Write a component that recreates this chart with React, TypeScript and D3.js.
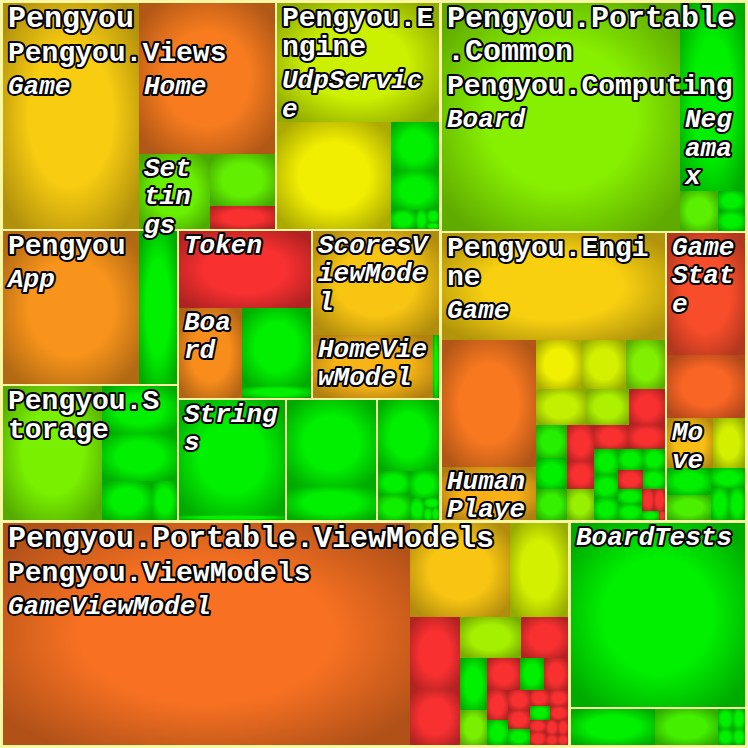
import React from "react";
import * as d3 from "d3";

type Item = [string, number, number] | [string, Item[]];

// ---- Data: [name, statements, coverage %] or [name, children] ----
// Assembly "Pengyou"
const pengyouViews: Item[] = [
  ["Game", 303, 54], ["Home", 202, 31], ["Settings", 52, 86], ["", 33, 87], ["", 14, 0],
];
const pengyouEngine: Item[] = [
  ["UdpService", 192, 73], ["", 120, 67], ["", 23, 100], ["", 19, 100],
  ["", 4.5, 100], ["", 2, 100], ["", 1.5, 100], ["", 0.7, 100],
];
const pengyouRoot: Item[] = [["App", 207, 38], ["", 57, 100]];
const pengyouStorage: Item[] = [
  ["", 132, 84], ["", 35.5, 100], ["", 35, 100], ["", 19.5, 100], ["", 9.4, 100],
];
const pengyouTokens: Item[] = [["Token", 102, 0], ["Board", 56.7, 36], ["", 54, 100], ["", 8.5, 100]];
const pengyouViewModels: Item[] = [["ScoresViewModel", 131, 52], ["HomeViewModel", 76, 47], ["", 3.8, 100]];
const pengyouStrings: Item[] = [["Strings", 123, 100], ["", 5, 100]];
const pengyouResources: Item[] = [["", 77, 100], ["", 30, 100]];
const pengyouServices: Item[] = [
  ["", 44, 100], ["", 8, 100], ["", 8, 98], ["", 8, 100], ["", 3, 100], ["", 1.5, 100], ["", 1, 100], ["", 0.8, 100],
];

// Assembly "Pengyou.Portable.Common"
const commonComputing: Item[] = [
  ["Board", 536, 82], ["Negamax", 120, 100], ["", 15, 88], ["", 5.4, 100], ["", 5.4, 100],
];
const engineSmallRest: Item[] = [
  ["", 10, 95], ["", 9.6, 100], ["", 9.6, 93], ["", 9.5, 0], ["", 7.5, 0], ["", 8, 80],
  ["", 8, 0], ["", 8.6, 0], ["", 6.2, 100], ["", 5.5, 100], ["", 5.3, 100], ["", 5.3, 100],
  ["", 4.7, 100], ["", 4.4, 0], ["", 4, 100], ["", 3.6, 100], ["", 3.5, 100], ["", 2.6, 0],
  ["", 2.5, 0], ["", 1.5, 100], ["", 0.6, 0],
];
const engineSmall: Item[] = [
  ["", 22, 68], ["", 22, 72], ["", 19, 83], ["", 18, 74], ["", 15, 77], ["", 13, 0], ["", engineSmallRest],
];
const commonEngine: Item[] = [["Game", 234, 55], ["", 117, 30], ["HumanPlayer", 49, 46], ["", engineSmall]];
const gameStateMembers: Item[] = [["", 95, 12], ["", 49, 22]];
const moveNeighbours: Item[] = [["", 11.6, 100], ["", 10.7, 90], ["", 6.7, 100], ["", 6, 100], ["", 5, 100]];
const commonState: Item[] = [["GameState", gameStateMembers], ["Move", 23, 50], ["", 16, 72], ["", moveNeighbours]];

// Assembly "Pengyou.Portable.ViewModels"
const gvmTail: Item[] = [
  ["", 6.2, 0], ["", 5, 100], ["", 4.5, 0], ["", 4, 0], ["", 3.5, 100], ["", 3, 0], ["", 3, 0],
  ["", 2.8, 100], ["", 2.5, 0], ["", 2, 0], ["", 2, 0], ["", 1.8, 0], ["", 1.5, 0], ["", 1.2, 0], ["", 1, 0],
];
const gvmRow: Item[] = [["", 10, 0], ["", 7.3, 100], ["", 7.3, 0]];
const gvmColumn: Item[] = [["", 14, 100], ["", 9.6, 84]];
const gvmBlock: Item[] = [["", gvmRow], ["", gvmTail]];
const gvmCorner: Item[] = [["", gvmColumn], ["", gvmBlock]];
const gameViewModel: Item[] = [
  ["", 890, 27], ["", 93, 52], ["", 54, 72], ["", 35, 0], ["", 27.5, 0], ["", 25, 78], ["", 19, 0], ["", gvmCorner],
];
const portableViewModels: Item[] = [["GameViewModel", gameViewModel]];

// Test assembly
const testsBoard: Item[] = [["BoardTests", 321, 100]];
const testsOther: Item[] = [["", 31, 100], ["", 23.5, 91], ["", 3, 100], ["", 2.5, 100], ["", 2.5, 100], ["", 2, 100]];

const assemblies: [string, [string, Item[]][]][] = [
  ["Pengyou", [
    ["Pengyou.Views", pengyouViews], ["Pengyou.Engine", pengyouEngine], ["Pengyou", pengyouRoot],
    ["Pengyou.Storage", pengyouStorage], ["", pengyouTokens], ["", pengyouViewModels],
    ["", pengyouStrings], ["", pengyouResources], ["", pengyouServices],
  ]],
  ["Pengyou.Portable.Common", [
    ["Pengyou.Computing", commonComputing], ["Pengyou.Engine", commonEngine], ["", commonState],
  ]],
  ["Pengyou.Portable.ViewModels", [["Pengyou.ViewModels", portableViewModels]]],
  ["", [["", testsBoard], ["", testsOther]]],
];

// coverage colour scale
const covStops = [0, 30, 55, 68, 100];
const covColors = ["#f83030", "#f87820", "#f8d010", "#f0f000", "#00f000"];

type N = { name: string; value?: number; cov?: number; children?: N[] };

function toNode(it: Item): N {
  if (Array.isArray(it[1])) return { name: it[0], children: (it[1] as Item[]).map(toNode) };
  return { name: it[0], value: it[1] as number, cov: (it as any)[2] };
}

function buildTree(): N {
  return {
    name: "root",
    children: assemblies.map(([an, nss]) => ({
      name: an,
      children: nss.map(([nn, items]) => ({ name: nn, children: items.map(toNode) })),
    })),
  };
}

function squarify(parent: any, x0: number, y0: number, x1: number, y1: number) {
  const nodes = parent.children;
  const n = nodes.length;
  let value = parent.value;
  let i0 = 0, i1 = 0;
  while (i0 < n) {
    const dx = x1 - x0, dy = y1 - y0;
    let sumValue: number;
    do sumValue = nodes[i1++].value; while (!sumValue && i1 < n);
    let minValue = sumValue, maxValue = sumValue;
    const alpha = Math.max(dy / dx, dx / dy) / value;
    let beta = sumValue * sumValue * alpha;
    let minRatio = Math.max(maxValue / beta, beta / minValue);
    for (; i1 < n; ++i1) {
      const nv = nodes[i1].value;
      sumValue += nv;
      if (nv < minValue) minValue = nv;
      if (nv > maxValue) maxValue = nv;
      beta = sumValue * sumValue * alpha;
      const nr = Math.max(maxValue / beta, beta / minValue);
      if (nr > minRatio) { sumValue -= nv; break; }
      minRatio = nr;
    }
    const row: any = { value: sumValue, children: nodes.slice(i0, i1) };
    if (dx <= dy) {
      const ny = value ? y0 + (dy * sumValue) / value : y1;
      d3.treemapDice(row, x0, y0, x1, ny);
      y0 = ny;
    } else {
      const nx = value ? x0 + (dx * sumValue) / value : x1;
      d3.treemapSlice(row, x0, y0, nx, y1);
      x0 = nx;
    }
    value -= sumValue;
    i0 = i1;
  }
}

const LABEL: Record<number, { size: number; adv: number; off: number; lh: number; desc: number; italic: boolean }> = {
  1: { size: 30, adv: 18, off: 23.5, lh: 33, desc: 12, italic: false },
  2: { size: 28, adv: 16.8, off: 22.5, lh: 29.5, desc: 11.5, italic: false },
  3: { size: 26, adv: 15.6, off: 21.5, lh: 28.5, desc: 8, italic: true },
};

export default function App() {
  const W = 748, H = 748;
  const root = d3.hierarchy<N>(buildTree()).sum((d) => d.value ?? 0);
  d3.treemap<N>()
    .size([W, H])
    .tile(squarify as any)
    .paddingOuter((n) => (n.depth === 0 ? 3 : 0))
    .paddingInner((n) => (n.depth === 0 ? 3 : n.depth === 1 ? 2 : 0))
    .round(true)(root);

  const color = d3.scaleLinear<string>().domain(covStops).range(covColors).interpolate(d3.interpolateRgb);
  const leaves = root.leaves() as d3.HierarchyRectangularNode<N>[];
  const palette: string[] = [];
  const leafColor = new Map<any, number>();
  leaves.forEach((l) => {
    const c = d3.color(color(l.data.cov ?? 100))!.formatHex();
    let i = palette.indexOf(c);
    if (i < 0) { palette.push(c); i = palette.length - 1; }
    leafColor.set(l, i);
  });

  // labels
  const blocks = new Map<any, { x0: number; x1: number; top: number; bottom: number }>();
  const labels: { key: string; x: number; ys: number[]; lines: string[]; st: any; clip: number }[] = [];
  const all = root.descendants() as d3.HierarchyRectangularNode<N>[];
  const asmIndex = new Map<any, number>();
  (root.children as any[]).forEach((a, i) => asmIndex.set(a, i));
  all.forEach((node, idx) => {
    if (node.depth === 0 || !node.data.name) return;
    const st = LABEL[Math.min(node.depth, 3)];
    const w = node.x1 - node.x0;
    const per = Math.max(1, Math.floor((w - 10) / st.adv));
    const name = node.data.name;
    const lines: string[] = [];
    for (let i = 0; i < name.length; i += per) lines.push(name.slice(i, i + per));
    let top = node.y0;
    node.ancestors().slice(1).reverse().forEach((a) => {
      const b = blocks.get(a);
      if (b && b.x1 > node.x0 && b.x0 < node.x1 && b.bottom > top && b.top < node.y1) top = Math.max(top, b.bottom);
    });
    const x = node.x0 + 5;
    const first = top + st.off;
    const ys = lines.map((_, i) => first + i * st.lh);
    const maxLen = d3.max(lines, (l) => l.length) ?? 0;
    blocks.set(node, { x0: x, x1: x + maxLen * st.adv, top, bottom: first + (lines.length - 1) * st.lh + st.desc });
    const asm = node.ancestors().find((a) => a.depth === 1) as d3.HierarchyRectangularNode<N>;
    // lines that would fall completely outside the assembly are clipped away anyway
    const keep = lines.map((_, i) => ys[i] - st.size * 0.72 < asm.y1);
    labels.push({
      key: "l" + idx,
      x,
      ys: ys.filter((_, i) => keep[i]),
      lines: lines.filter((_, i) => keep[i]),
      st,
      clip: asmIndex.get(asm) ?? 0,
    });
  });

  const asms = root.children as d3.HierarchyRectangularNode<N>[];

  return (
    <svg width={W} height={H} style={{ position: "absolute", left: 0, top: 0 }}>
      <defs>
        {palette.map((c, i) => (
          <radialGradient key={c} id={"cg" + i} cx="0.5" cy="0.5" r="0.62">
            <stop offset="0" stopColor={c} />
            <stop offset="0.5" stopColor={c} />
            <stop offset="1" stopColor={d3.color(c)!.darker(0.95).formatHex()} />
          </radialGradient>
        ))}
        {asms.map((a, i) => (
          <clipPath key={i} id={"ac" + i}>
            <rect x={a.x0} y={a.y0} width={a.x1 - a.x0} height={a.y1 - a.y0} />
          </clipPath>
        ))}
      </defs>
      <rect x={0} y={0} width={W} height={H} fill="#f8f8a4" />
      {leaves.map((l, i) => (
        <rect
          key={i}
          x={l.x0}
          y={l.y0}
          width={Math.max(0, l.x1 - l.x0)}
          height={Math.max(0, l.y1 - l.y0)}
          fill={`url(#cg${leafColor.get(l)})`}
        />
      ))}
      {labels.map((lb) => (
        <g key={lb.key} clipPath={`url(#ac${lb.clip})`}>
          {lb.lines.map((t, i) => (
            <text
              key={i}
              x={lb.x}
              y={lb.ys[i]}
              fontFamily="'Liberation Mono', 'DejaVu Sans Mono', monospace"
              fontWeight="bold"
              fontStyle={lb.st.italic ? "italic" : "normal"}
              fontSize={lb.st.size}
              fill="#ffffff"
              stroke="#000000"
              strokeWidth={4}
              strokeLinejoin="round"
              paintOrder="stroke"
            >
              {t}
            </text>
          ))}
        </g>
      ))}
    </svg>
  );
}
